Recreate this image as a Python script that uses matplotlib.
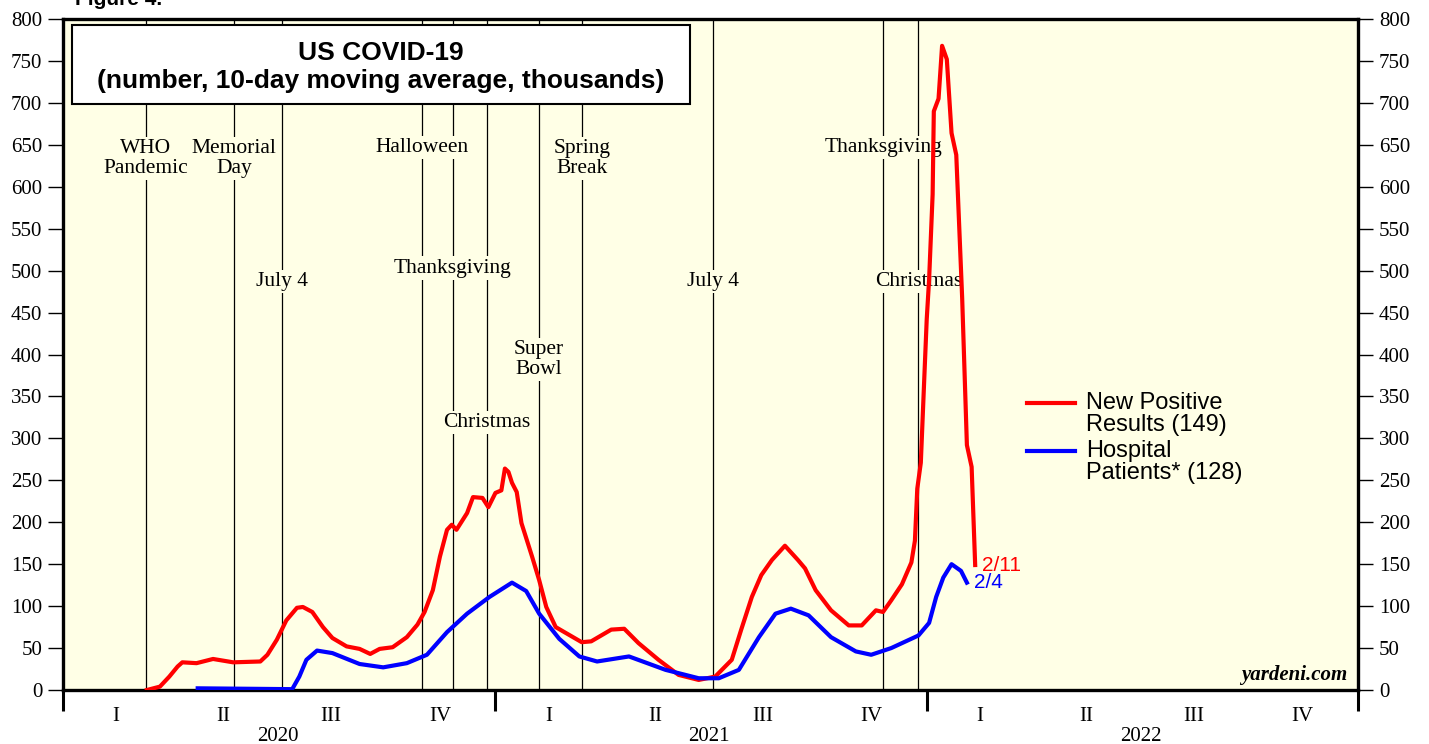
import matplotlib
matplotlib.use('Agg')
import matplotlib.pyplot as plt
import pandas as pd
from matplotlib.patches import Rectangle

plt.rcParams['font.family'] = ['Liberation Serif', 'DejaVu Serif']

# new positive results, 10-day moving average, thousands
pos_dates = ['2020-03-12', '2020-03-23', '2020-03-31', '2020-04-07', '2020-04-11', '2020-04-23',
             '2020-05-07', '2020-05-24', '2020-06-16', '2020-06-22', '2020-06-30', '2020-07-08',
             '2020-07-17', '2020-07-22', '2020-07-30', '2020-08-08', '2020-08-16', '2020-08-28',
             '2020-09-08', '2020-09-17', '2020-09-25', '2020-10-06', '2020-10-18', '2020-10-27',
             '2020-11-02', '2020-11-09', '2020-11-15', '2020-11-21', '2020-11-25', '2020-11-29',
             '2020-12-08', '2020-12-13', '2020-12-21', '2020-12-26', '2021-01-01', '2021-01-06',
             '2021-01-09', '2021-01-12', '2021-01-15', '2021-01-19', '2021-01-23', '2021-02-01',
             '2021-02-07', '2021-02-13', '2021-02-21', '2021-03-04', '2021-03-15', '2021-03-23',
             '2021-04-09', '2021-04-20', '2021-05-02', '2021-05-19', '2021-06-05', '2021-06-22',
             '2021-07-06', '2021-07-20', '2021-07-28', '2021-08-06', '2021-08-14', '2021-08-23',
             '2021-09-03', '2021-09-14', '2021-09-20', '2021-09-29', '2021-10-12', '2021-10-27',
             '2021-11-07', '2021-11-19', '2021-11-25', '2021-12-02', '2021-12-11', '2021-12-19',
             '2021-12-22', '2021-12-24', '2021-12-27', '2021-12-30', '2022-01-01', '2022-01-03',
             '2022-01-06', '2022-01-07', '2022-01-11', '2022-01-14', '2022-01-18', '2022-01-22',
             '2022-01-26', '2022-01-31', '2022-02-04', '2022-02-08', '2022-02-11']
pos_vals = [0, 4, 16, 28, 33, 32,
            37, 33, 34, 42, 60, 83,
            98, 99, 93, 75, 62, 52,
            49, 43, 49, 51, 63, 78,
            93, 119, 159, 191, 197, 191,
            211, 230, 229, 218, 235, 238,
            264, 260, 247, 236, 199, 159,
            131, 99, 75, 66, 57, 58,
            72, 73, 56, 36, 18, 12,
            16, 36, 72, 111, 137, 155,
            172, 155, 145, 119, 95, 77,
            77, 95, 93, 107, 126, 152,
            178, 240, 271, 374, 442, 489,
            591, 690, 705, 768, 752, 664,
            638, 467, 292, 266, 149]

# hospital patients, thousands
hosp_dates = ['2020-04-24', '2020-07-13', '2020-07-19', '2020-07-25', '2020-08-03', '2020-08-16',
              '2020-09-08', '2020-09-28', '2020-10-18', '2020-11-04', '2020-11-21', '2020-12-08',
              '2020-12-27', '2021-01-15', '2021-01-27', '2021-02-07', '2021-02-24', '2021-03-13',
              '2021-03-28', '2021-04-24', '2021-05-25', '2021-06-22', '2021-07-09', '2021-07-26',
              '2021-08-12', '2021-08-26', '2021-09-08', '2021-09-23', '2021-10-12', '2021-11-02',
              '2021-11-15', '2021-12-02', '2021-12-25', '2022-01-03', '2022-01-09', '2022-01-15',
              '2022-01-22', '2022-01-30', '2022-02-04']
hosp_vals = [2, 1, 16, 36, 47, 44,
             31, 27, 32, 42, 69, 91,
             111, 128, 118, 91, 61, 40,
             34, 40, 24, 14, 14, 24,
             63, 91, 97, 89, 63, 46,
             42, 50, 65, 80, 111, 134,
             150, 142, 128]

event_names = ['WHO\nPandemic', 'Memorial\nDay', 'July 4', 'Halloween', 'Thanksgiving', 'Christmas',
               'Super\nBowl', 'Spring\nBreak', 'July 4', 'Thanksgiving', 'Christmas']
event_dates = ['2020-03-11', '2020-05-25', '2020-07-04', '2020-10-31', '2020-11-26', '2020-12-25',
               '2021-02-07', '2021-03-15', '2021-07-04', '2021-11-25', '2021-12-25']
event_label_y = [634, 634, 487, 647, 503, 319, 394, 634, 487, 647, 487]

series_names = ['New Positive\nResults (149)', 'Hospital\nPatients* (128)']
series_colors = ['#ff0000', '#0000ff']

quarters = ['I', 'II', 'III', 'IV']
years = [2020, 2021, 2022]

bg = '#ffffe6'
sans = ['Liberation Sans', 'DejaVu Sans']

fig = plt.figure(figsize=(14.29, 7.44), dpi=100)
ax = fig.add_axes([63 / 1429, 54 / 744, 1295 / 1429, 671 / 744])
ax.set_facecolor(bg)

# event lines with labels that hide the line behind them
for name, d, ly in zip(event_names, pd.to_datetime(event_dates), event_label_y):
    ax.axvline(d, color='black', lw=0.9, zorder=1)
    ax.text(d, ly, name, ha='center', va='center', fontsize=15.5, linespacing=1.05, zorder=2,
            bbox=dict(facecolor=bg, edgecolor='none', pad=1.5))

pos_x = pd.to_datetime(pos_dates)
hosp_x = pd.to_datetime(hosp_dates)
ax.plot(pos_x, pos_vals, color=series_colors[0], lw=3, zorder=3, solid_joinstyle='round')
ax.plot(hosp_x, hosp_vals, color=series_colors[1], lw=3, zorder=3, solid_joinstyle='round')

ax.annotate('2/11', (pos_x[-1], pos_vals[-1]), xytext=(7, 0), textcoords='offset pixels',
            color=series_colors[0], fontsize=15, family=sans, va='center', ha='left')
ax.annotate('2/4', (hosp_x[-1], hosp_vals[-1]), xytext=(7, 0), textcoords='offset pixels',
            color=series_colors[1], fontsize=15, family=sans, va='center', ha='left')

ax.set_xlim(pd.Timestamp('2020-01-01'), pd.Timestamp('2023-01-01'))
ax.set_ylim(0, 800)

# y axis both sides
ax.set_yticks(range(0, 801, 50))
ax.tick_params(axis='y', direction='out', length=11, width=1, labelsize=15, pad=4,
               left=True, right=True, labelleft=True, labelright=True)

# year ticks, quarter labels
year_starts = pd.to_datetime([f'{y}-01-01' for y in years + [2023]])
ax.set_xticks(year_starts)
ax.tick_params(axis='x', which='major', direction='out', length=15, width=2.2, labelbottom=False)
q_mid = []
q_lab = []
for y in years:
    for i, q in enumerate(quarters):
        a = pd.Timestamp(f'{y}-{3 * i + 1:02d}-01')
        q_mid.append(a + pd.Timedelta(days=45))
        q_lab.append(q)
ax.set_xticks(q_mid, minor=True)
ax.set_xticklabels(q_lab, minor=True)
ax.tick_params(axis='x', which='minor', length=0, pad=12, labelsize=15)
for y in years:
    ax.text(pd.Timestamp(f'{y}-07-01'), -0.069, str(y), transform=ax.get_xaxis_transform(),
            ha='center', va='center', fontsize=15)

for s in ax.spines.values():
    s.set_linewidth(2.4)

# title box
ax.add_patch(Rectangle((0.007, 0.873), 0.477, 0.118, transform=ax.transAxes,
                       facecolor='white', edgecolor='black', lw=1.5, zorder=5))
ax.text(0.2456, 0.950, 'US COVID-19', transform=ax.transAxes, ha='center', va='center',
        fontsize=19, fontweight='bold', family=sans, zorder=6)
ax.text(0.2456, 0.907, '(number, 10-day moving average, thousands)', transform=ax.transAxes,
        ha='center', va='center', fontsize=19, fontweight='bold', family=sans, zorder=6)

ax.text(0.992, 0.022, 'yardeni.com', transform=ax.transAxes, ha='right', va='center',
        fontsize=15, fontweight='bold', style='italic', zorder=6)

# legend: short line next to the first line of each two-line label
for k, (lab, col) in enumerate(zip(series_names, series_colors)):
    yk = (690 - 403 - 48 * k) / 671
    ax.plot([(1027 - 63) / 1295, (1075 - 63) / 1295], [yk, yk], color=col, lw=3,
            transform=ax.transAxes, zorder=6)
    ax.text((1086 - 63) / 1295, yk + 11 / 671, lab, transform=ax.transAxes, ha='left', va='top',
            fontsize=17, family=sans, linespacing=1.0, zorder=6)

fig.text(75 / 1429, 1 - 5 / 744, 'Figure 4.', ha='left', va='baseline', fontsize=15,
         fontweight='bold', family=sans)

fig.savefig('out.png', dpi=100)
